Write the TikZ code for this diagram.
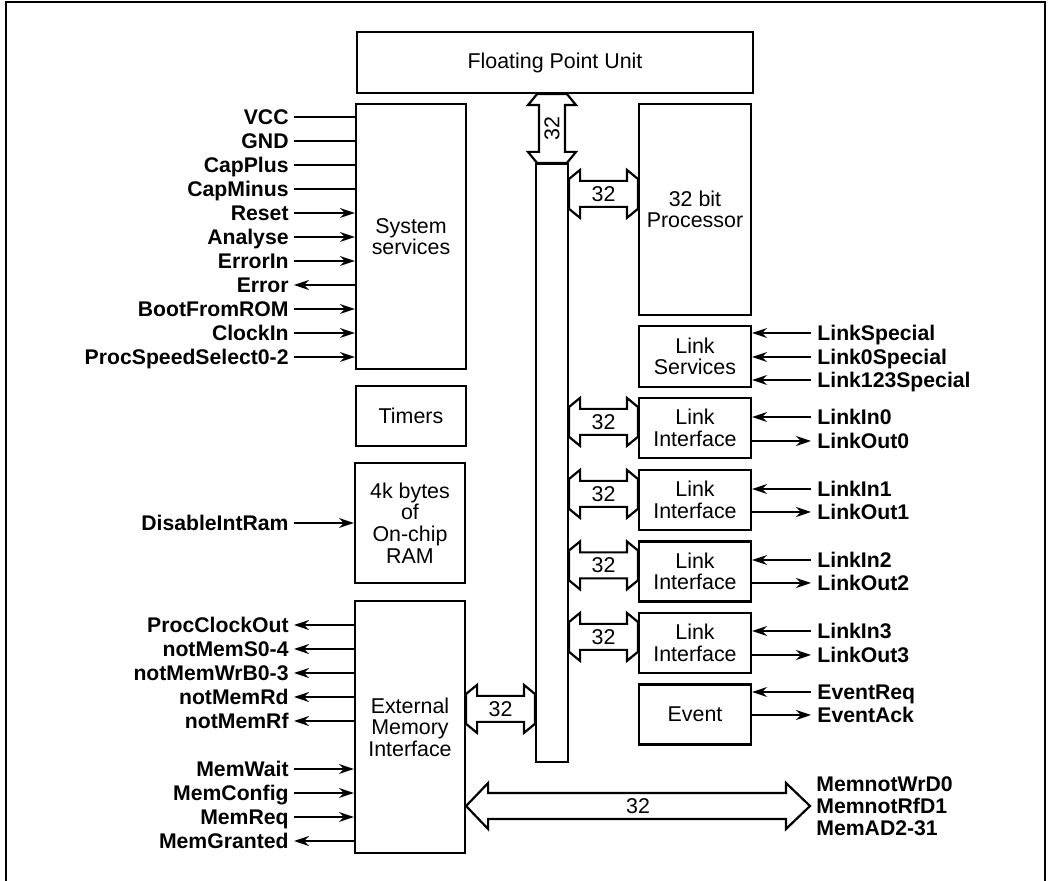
\documentclass[tikz,border=0pt]{standalone}
\usepackage{fontspec}
\setmainfont{Liberation Sans}
\usetikzlibrary{arrows.meta,calc}

\newcommand{\boxfont}{\fontsize{10.7pt}{10.8pt}\selectfont}
\newcommand{\sigfont}{\fontsize{10.6pt}{11pt}\selectfont\bfseries}

% horizontal 32 bit path: #1 left end, #2 right end
\newcommand{\hbus}[2]{%
  \draw[busline] ($(#1)+(0,-15)$) -- ($(#1)+(11,-24)$) -- ($(#1)+(11,-13)$) -- ($(#2)+(-11,-13)$)
    -- ($(#2)+(-11,-24)$) -- ($(#2)+(0,-15)$) -- ($(#2)+(0,15)$) -- ($(#2)+(-11,24)$)
    -- ($(#2)+(-11,13)$) -- ($(#1)+(11,13)$) -- ($(#1)+(11,24)$) -- ($(#1)+(0,15)$) -- cycle;
  \path (#1) -- (#2) node[midway, font=\boxfont] {32};}
% vertical 32 bit path: #1 top end, #2 bottom end
\newcommand{\vbus}[2]{%
  \draw[busline] ($(#1)+(-15,0)$) -- ($(#1)+(-24,11)$) -- ($(#1)+(-13,11)$) -- ($(#2)+(-13,-11)$)
    -- ($(#2)+(-24,-11)$) -- ($(#2)+(-15,0)$) -- ($(#2)+(15,0)$) -- ($(#2)+(24,-11)$)
    -- ($(#2)+(13,-11)$) -- ($(#1)+(13,11)$) -- ($(#1)+(24,11)$) -- ($(#1)+(15,0)$) -- cycle;
  \path (#1) -- (#2) node[midway, font=\boxfont, rotate=90] {32};}

\begin{document}
\begin{tikzpicture}[x=0.5pt, y=-0.5pt, >={Stealth[length=7.5pt,width=5pt,inset=2.5pt]},
    blk/.style={draw, line width=1.1pt, inner sep=0pt, minimum width=55pt, font=\boxfont, align=center},
    sigl/.style={anchor=east, inner sep=2.5pt, font=\sigfont, text height=7.6pt, text depth=0pt},
    sigr/.style={anchor=west, inner sep=3pt, font=\sigfont, text height=7.6pt, text depth=0pt},
    wire/.style={line width=0.8pt},
    busline/.style={line width=1.1pt, line join=miter}]
    \useasboundingbox (0,0) rectangle (1051,881);
    % frame
    \draw[line width=1.1pt] (6,881) -- (6,2) -- (1045,2) -- (1045,881);

    % blocks
    \node[blk, minimum width=198pt, minimum height=30.5pt] (fpu) at (555,62.5) {Floating Point Unit};
    \node[blk, minimum height=132.5pt] (sys) at (411,236.5) {System\\services};
    \node[blk, minimum height=30pt] (tim) at (411,416) {Timers};
    \node[blk, minimum height=60pt] (ram) at (410,523) {4k bytes\\of\\On-chip\\RAM};
    \node[blk, minimum height=126pt] (emi) at (410,727) {External\\Memory\\Interface};
    \node[draw, line width=1.1pt, inner sep=0pt, minimum width=16pt, minimum height=299pt] (bus) at (552,463) {};
    \node[blk, minimum width=56pt, minimum height=105.5pt] (proc) at (695,209.5) {32 bit\\Processor};
    \node[blk, minimum width=56pt, minimum height=30.5pt] (lsv) at (695,356.5) {Link\\Services};
    \node[blk, minimum width=56pt, minimum height=30pt] (li0) at (695,428) {Link\\Interface};
    \node[blk, minimum width=56pt, minimum height=30pt] (li1) at (695,500) {Link\\Interface};
    \node[blk, minimum width=56pt, minimum height=30pt] (li2) at (695,571.5) {Link\\Interface};
    \node[blk, minimum width=56pt, minimum height=30pt] (li3) at (695,643) {Link\\Interface};
    \node[blk, minimum width=56pt, minimum height=30pt] (evt) at (695,714.5) {Event};

    % 32 bit paths to the bus
    \coordinate (fa) at (fpu.south -| bus.north);
    \vbus{fa}{bus.north}
    \coordinate (pa) at ($(proc.north west)+(0,91)$);
    \coordinate (pb) at (bus.east |- pa);
    \hbus{pb}{pa}
    \coordinate (l0a) at ($(li0.north west)+(0,25)$);
    \coordinate (l0b) at (bus.east |- l0a);
    \hbus{l0b}{l0a}
    \coordinate (l1a) at ($(li1.north west)+(0,25)$);
    \coordinate (l1b) at (bus.east |- l1a);
    \hbus{l1b}{l1a}
    \coordinate (l2a) at ($(li2.north west)+(0,25)$);
    \coordinate (l2b) at (bus.east |- l2a);
    \hbus{l2b}{l2a}
    \coordinate (l3a) at ($(li3.north west)+(0,25)$);
    \coordinate (l3b) at (bus.east |- l3a);
    \hbus{l3b}{l3a}
    \coordinate (ea) at ($(emi.north east)+(0,109)$);
    \coordinate (eb) at (bus.west |- ea);
    \hbus{ea}{eb}

    % external memory bus
    \coordinate (mtip) at (810,806);
    \coordinate (mbase) at (emi.east |- mtip);
    \draw[busline] (mbase) -- ($(mbase)+(22,-23)$) -- ($(mbase)+(22,-13)$) -- ($(mtip)+(-24,-13)$)
        -- ($(mtip)+(-24,-23)$) -- (mtip) -- ($(mtip)+(-24,23)$) -- ($(mtip)+(-24,13)$)
        -- ($(mbase)+(22,13)$) -- ($(mbase)+(22,23)$) -- cycle;
    \path (mbase) -- (mtip) node[midway, font=\boxfont] {32};
    \node[anchor=west, inner sep=3pt, font=\sigfont, align=left] (mad) at (mtip) {MemnotWrD0\\MemnotRfD1\\MemAD2-31};

    % system services signals
    \node[sigl] (vcc) at (294,117) {VCC}; \draw[wire] (vcc.east) -- (vcc.east -| sys.west);
    \node[sigl] (gnd) at (294,141) {GND}; \draw[wire] (gnd.east) -- (gnd.east -| sys.west);
    \node[sigl] (capp) at (294,165) {CapPlus}; \draw[wire] (capp.east) -- (capp.east -| sys.west);
    \node[sigl] (capm) at (294,189) {CapMinus}; \draw[wire] (capm.east) -- (capm.east -| sys.west);
    \node[sigl] (rst) at (294,213) {Reset}; \draw[wire,->] (rst.east) -- (rst.east -| sys.west);
    \node[sigl] (anl) at (294,237) {Analyse}; \draw[wire,->] (anl.east) -- (anl.east -| sys.west);
    \node[sigl] (errin) at (294,261) {ErrorIn}; \draw[wire,->] (errin.east) -- (errin.east -| sys.west);
    \node[sigl] (err) at (294,285) {Error}; \draw[wire,->] (err.east -| sys.west) -- (err.east);
    \node[sigl] (boot) at (294,309) {BootFromROM}; \draw[wire,->] (boot.east) -- (boot.east -| sys.west);
    \node[sigl] (clk) at (294,333) {ClockIn}; \draw[wire,->] (clk.east) -- (clk.east -| sys.west);
    \node[sigl] (pss) at (294,357) {ProcSpeedSelect0-2}; \draw[wire,->] (pss.east) -- (pss.east -| sys.west);

    % RAM signal
    \node[sigl] (dir) at (294,523) {DisableIntRam}; \draw[wire,->] (dir.east) -- (dir.east -| ram.west);

    % external memory interface signals
    \node[sigl] (pco) at (294,625) {ProcClockOut}; \draw[wire,->] (pco.east -| emi.west) -- (pco.east);
    \node[sigl] (nms) at (294,649) {notMemS0-4}; \draw[wire,->] (nms.east -| emi.west) -- (nms.east);
    \node[sigl] (nmw) at (294,673) {notMemWrB0-3}; \draw[wire,->] (nmw.east -| emi.west) -- (nmw.east);
    \node[sigl] (nmrd) at (294,697) {notMemRd}; \draw[wire,->] (nmrd.east -| emi.west) -- (nmrd.east);
    \node[sigl] (nmrf) at (294,721) {notMemRf}; \draw[wire,->] (nmrf.east -| emi.west) -- (nmrf.east);
    \node[sigl] (mwt) at (294,769) {MemWait}; \draw[wire,->] (mwt.east) -- (mwt.east -| emi.west);
    \node[sigl] (mcf) at (294,793) {MemConfig}; \draw[wire,->] (mcf.east) -- (mcf.east -| emi.west);
    \node[sigl] (mrq) at (294,817) {MemReq}; \draw[wire,->] (mrq.east) -- (mrq.east -| emi.west);
    \node[sigl] (mgr) at (294,841) {MemGranted}; \draw[wire,->] (mgr.east -| emi.west) -- (mgr.east);

    % link signals
    \node[sigr] (lsp) at (811,333) {LinkSpecial}; \draw[wire,->] (lsp.west) -- (lsp.west -| lsv.east);
    \node[sigr] (l0sp) at (811,357) {Link0Special}; \draw[wire,->] (l0sp.west) -- (l0sp.west -| lsv.east);
    \node[sigr] (l123sp) at (811,380) {Link123Special}; \draw[wire,->] (l123sp.west) -- (l123sp.west -| lsv.east);
    \node[sigr] (lin0) at (811,417) {LinkIn0}; \draw[wire,->] (lin0.west) -- (lin0.west -| li0.east);
    \node[sigr] (lout0) at (811,441) {LinkOut0}; \draw[wire,->] (lout0.west -| li0.east) -- (lout0.west);
    \node[sigr] (lin1) at (811,489) {LinkIn1}; \draw[wire,->] (lin1.west) -- (lin1.west -| li1.east);
    \node[sigr] (lout1) at (811,512) {LinkOut1}; \draw[wire,->] (lout1.west -| li1.east) -- (lout1.west);
    \node[sigr] (lin2) at (811,560) {LinkIn2}; \draw[wire,->] (lin2.west) -- (lin2.west -| li2.east);
    \node[sigr] (lout2) at (811,583) {LinkOut2}; \draw[wire,->] (lout2.west -| li2.east) -- (lout2.west);
    \node[sigr] (lin3) at (811,631) {LinkIn3}; \draw[wire,->] (lin3.west) -- (lin3.west -| li3.east);
    \node[sigr] (lout3) at (811,655) {LinkOut3}; \draw[wire,->] (lout3.west -| li3.east) -- (lout3.west);

    % event signals
    \node[sigr] (evrq) at (811,692) {EventReq}; \draw[wire,->] (evrq.west) -- (evrq.west -| evt.east);
    \node[sigr] (evak) at (811,715) {EventAck}; \draw[wire,->] (evak.west -| evt.east) -- (evak.west);
\end{tikzpicture}
\end{document}
